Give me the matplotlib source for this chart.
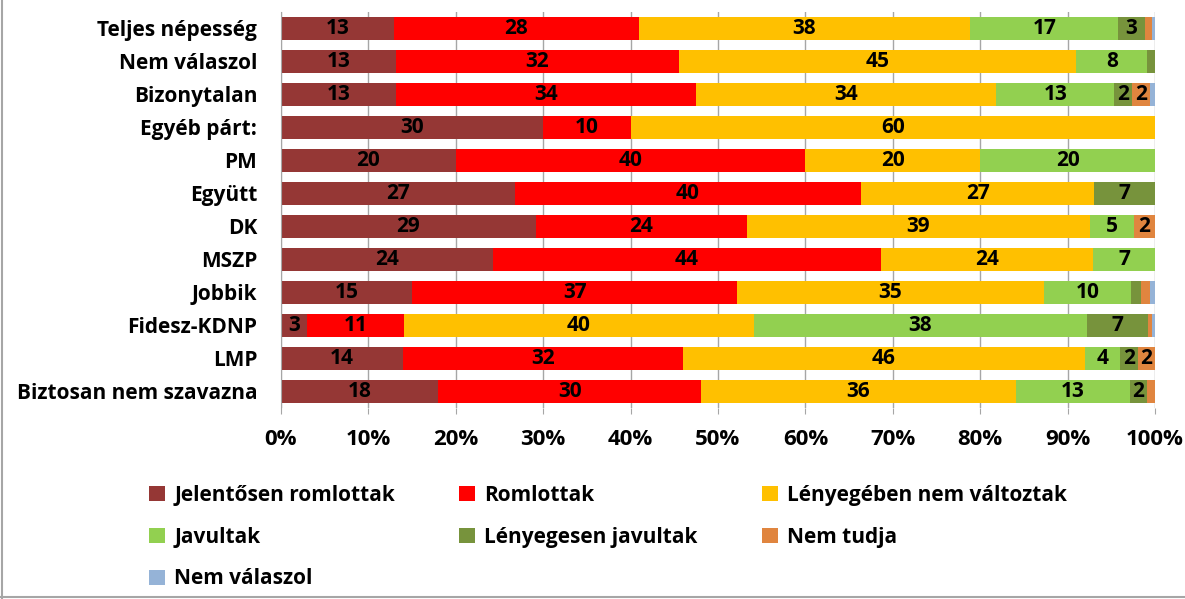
import matplotlib.pyplot as plt
import numpy as np
from matplotlib.patches import Patch
from matplotlib.lines import Line2D

plt.rcParams['font.family'] = ['Open Sans', 'DejaVu Sans']
plt.rcParams['font.weight'] = 'bold'

# Kategóriák (fentről lefelé)
categories = ['Teljes népesség', 'Nem válaszol', 'Bizonytalan', 'Egyéb párt:', 'PM',
              'Együtt', 'DK', 'MSZP', 'Jobbik', 'Fidesz-KDNP', 'LMP',
              'Biztosan nem szavazna']

series_names = ['Jelentősen romlottak', 'Romlottak', 'Lényegében nem változtak',
                'Javultak', 'Lényegesen javultak', 'Nem tudja', 'Nem válaszol']

colors = ['#953735', '#FF0000', '#FFC000', '#92D050', '#77933C', '#E0853F', '#95B3D7']

# Értékek (%), soronként
jelentosen_romlottak = [13, 13, 13, 30, 20, 27, 29, 24, 15, 3, 14, 18]
romlottak = [28, 32, 34, 10, 40, 40, 24, 44, 37, 11, 32, 30]
nem_valtoztak = [38, 45, 34, 60, 20, 27, 39, 24, 35, 40, 46, 36]
javultak = [17, 8, 13.4, 0, 20, 0, 5, 7, 10, 38, 4, 13]
lenyegesen_javultak = [3, 0.9, 2, 0, 0, 7, 0, 0, 1.1, 7, 2, 2]
nem_tudja = [0.8, 0, 2, 0, 0, 0, 2.4, 0, 1, 0.4, 2, 0.9]
nem_valaszol = [0.4, 0, 0.6, 0, 0, 0, 0, 0, 0.6, 0.4, 0, 0]

data = np.array([jelentosen_romlottak, romlottak, nem_valtoztak, javultak,
                 lenyegesen_javultak, nem_tudja, nem_valaszol], dtype=float)
# 100%-ra normálás
shares = data / data.sum(axis=0) * 100

fig = plt.figure(figsize=(11.85, 5.99), dpi=100)
ax = fig.add_axes([0.2371, 0.3189, 0.7376, 0.6611])

y = np.arange(len(categories))
left = np.zeros(len(categories))
for i in range(len(series_names)):
    ax.barh(y, shares[i], left=left, height=0.67, color=colors[i],
            label=series_names[i], zorder=2)
    for j in range(len(categories)):
        if data[i, j] >= 1.5:
            ax.text(left[j] + shares[i, j] / 2, y[j], f"{data[i, j]:.0f}",
                    ha='center', va='center', fontsize=15, fontweight='bold',
                    color='black', zorder=3)
    left += shares[i]

ax.set_xlim(0, 100)
ax.set_ylim(len(categories) - 0.5, -0.5)
ax.set_xticks(np.arange(0, 101, 10))
ax.set_xticklabels([f"{t}%" for t in range(0, 101, 10)])
ax.set_yticks(y)
ax.set_yticklabels(categories)
ax.tick_params(axis='x', length=4, pad=11, labelsize=16, color='#A6A6A6')
ax.tick_params(axis='y', length=0, pad=17, labelsize=15)
ax.xaxis.grid(True, color='#A6A6A6', linewidth=1, zorder=0)
ax.set_axisbelow(True)
for s in ['top', 'right', 'bottom']:
    ax.spines[s].set_visible(False)
ax.spines['left'].set_color('#A6A6A6')

# Jelmagyarázat soronként
handles = [Patch(facecolor=c) for c in colors]
order = [0, 3, 6, 1, 4, 2, 5]
fig.legend([handles[k] for k in order], [series_names[k] for k in order],
           ncol=3, loc='upper left', bbox_to_anchor=(0.11, 0.222),
           frameon=False, fontsize=15, handlelength=0.75, handleheight=0.75,
           handletextpad=0.45, columnspacing=3.1, labelspacing=1.0)

# keret
fig.add_artist(Line2D([0.002, 0.002], [0, 1], color='#A6A6A6', linewidth=1.5))
fig.add_artist(Line2D([0, 1], [0.003, 0.003], color='#A6A6A6', linewidth=1.5))

fig.savefig('out.png', dpi=100)
